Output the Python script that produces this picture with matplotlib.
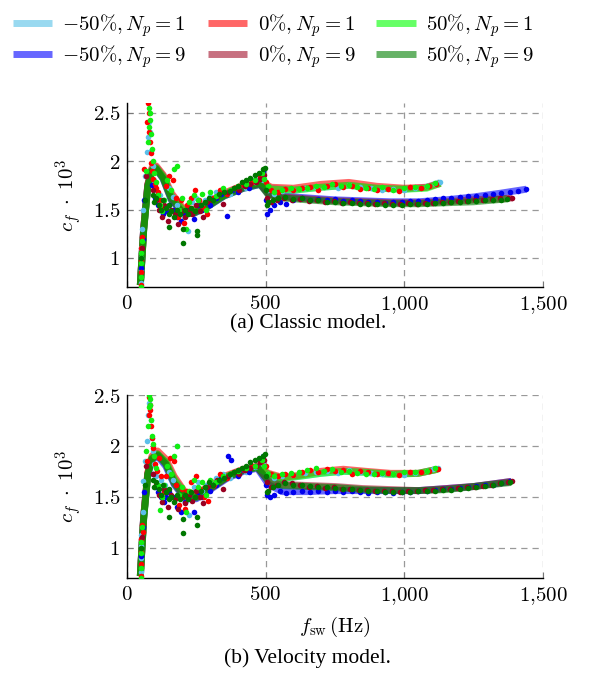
import matplotlib
matplotlib.use("Agg")
import matplotlib.pyplot as plt
from matplotlib.ticker import FixedLocator

plt.rcParams['mathtext.fontset'] = 'cm'
plt.rcParams['font.family'] = ['DejaVu Serif']

# ---------------- (a) classic model ----------------
# thick curves, N_p = 1
a_np1_x = [48, 60, 75, 90, 105, 130, 160, 200, 240, 290, 350, 420, 480, 520, 600, 700, 800, 900, 1000, 1080, 1130]
a_lb_line = [0.72, 1.3, 1.75, 1.92, 1.94, 1.85, 1.65, 1.5, 1.49, 1.56, 1.66, 1.74, 1.78, 1.72, 1.70, 1.73, 1.75, 1.72, 1.71, 1.73, 1.78]
a_r_line = [0.72, 1.3, 1.76, 1.93, 1.95, 1.86, 1.67, 1.52, 1.5, 1.57, 1.67, 1.75, 1.79, 1.73, 1.72, 1.76, 1.78, 1.74, 1.72, 1.73, 1.77]
a_g_line = [0.72, 1.28, 1.74, 1.91, 1.93, 1.84, 1.64, 1.5, 1.48, 1.55, 1.65, 1.74, 1.78, 1.71, 1.70, 1.73, 1.75, 1.72, 1.71, 1.72, 1.77]
# thick curves, N_p = 9
a_b_x = [48, 60, 75, 90, 105, 130, 160, 200, 240, 290, 350, 420, 480, 510, 560, 650, 750, 850, 950, 1050, 1150, 1250, 1350, 1440]
a_b_line = [0.72, 1.3, 1.75, 1.9, 1.92, 1.82, 1.6, 1.47, 1.46, 1.53, 1.64, 1.72, 1.76, 1.66, 1.64, 1.62, 1.6, 1.59, 1.58, 1.58, 1.6, 1.63, 1.67, 1.71]
a_dr_x = [48, 60, 75, 90, 105, 130, 160, 200, 240, 290, 350, 420, 480, 510, 560, 650, 750, 850, 950, 1050, 1150, 1250, 1350, 1390]
a_dr_line = [0.72, 1.3, 1.76, 1.91, 1.93, 1.84, 1.62, 1.48, 1.47, 1.54, 1.65, 1.73, 1.77, 1.66, 1.63, 1.61, 1.59, 1.58, 1.57, 1.57, 1.58, 1.6, 1.61, 1.62]
a_dg_x = [48, 60, 75, 90, 105, 130, 160, 200, 240, 290, 350, 420, 480, 510, 560, 650, 750, 850, 950, 1050, 1150, 1250, 1330, 1370]
a_dg_line = [0.72, 1.28, 1.74, 1.9, 1.92, 1.82, 1.6, 1.47, 1.46, 1.53, 1.64, 1.72, 1.76, 1.65, 1.62, 1.6, 1.58, 1.57, 1.56, 1.56, 1.57, 1.58, 1.6, 1.61]

# simulation points
a_lb_px = [50, 50, 51, 52, 55, 57, 66, 71, 76, 80, 84, 88, 92, 97, 103, 110, 120, 135, 150, 165,
           180, 195, 205, 220, 235, 250, 265, 280, 300, 320, 345, 370, 400, 430, 460, 490, 510, 530, 560, 600,
           640, 680, 720, 760, 800, 840, 880, 920, 960, 1000, 1040, 1080, 1110, 1130]
a_lb_py = [0.74, 0.88, 1.0, 1.1, 1.3, 1.5, 1.85, 2.09, 2.25, 2.4, 2.3, 2.1, 1.95, 1.8, 1.7, 1.58, 1.65, 1.6, 1.72, 1.63,
           1.55, 1.48, 1.42, 1.28, 1.58, 1.62, 1.55, 1.6, 1.64, 1.68, 1.7, 1.66, 1.73, 1.72, 1.78, 1.8, 1.7, 1.66, 1.69, 1.7,
           1.72, 1.73, 1.74, 1.72, 1.75, 1.73, 1.72, 1.70, 1.71, 1.70, 1.72, 1.74, 1.76, 1.78]
a_r_px = [50, 50, 51, 52, 53, 61, 72, 76, 78, 80, 82, 85, 88, 91, 95, 100, 106, 112, 120, 130,
          140, 152, 165, 175, 185, 195, 205, 215, 230, 245, 260, 275, 290, 310, 335, 360, 390, 420, 450, 480,
          500, 520, 545, 570, 600, 630, 660, 690, 720, 750, 780, 810, 840, 870, 900, 940, 980, 1020, 1060, 1090, 1115]
a_r_py = [0.72, 0.85, 0.98, 1.1, 1.22, 1.92, 2.4, 2.6, 2.5, 2.3, 2.2, 2.08, 1.98, 1.9, 1.82, 1.76, 1.72, 1.68, 1.6, 1.52,
          1.74, 1.85, 1.8, 1.62, 1.42, 1.6, 1.36, 1.55, 1.62, 1.7, 1.6, 1.52, 1.45, 1.62, 1.7, 1.66, 1.72, 1.75, 1.78, 1.85,
          1.78, 1.7, 1.68, 1.71, 1.70, 1.72, 1.73, 1.70, 1.74, 1.76, 1.73, 1.74, 1.71, 1.72, 1.70, 1.71, 1.69, 1.73, 1.72, 1.74, 1.76]
a_g_px = [50, 50, 51, 52, 54, 68, 74, 78, 80, 82, 84, 87, 90, 94, 98, 104, 110, 118, 126, 135,
          145, 158, 170, 179, 188, 200, 212, 225, 240, 255, 270, 285, 300, 320, 345, 370, 400, 430, 460, 485,
          495, 510, 530, 560, 590, 620, 650, 680, 710, 740, 770, 800, 830, 860, 890, 920, 960, 1000, 1040, 1080, 1110]
a_g_py = [0.7, 0.8, 0.95, 1.05, 1.18, 1.9, 2.2, 2.35, 2.55, 2.5, 2.42, 2.28, 2.12, 2.0, 1.88, 1.78, 1.65, 1.55, 1.48, 1.6,
          1.8, 1.7, 1.92, 1.95, 1.5, 1.62, 1.3, 1.58, 1.65, 1.6, 1.66, 1.5, 1.68, 1.64, 1.72, 1.7, 1.74, 1.76, 1.8, 1.88,
          1.82, 1.74, 1.68, 1.70, 1.72, 1.71, 1.72, 1.74, 1.73, 1.76, 1.74, 1.75, 1.73, 1.72, 1.71, 1.73, 1.70, 1.72, 1.73, 1.74, 1.77]
a_b_px = [52, 56, 62, 90, 100, 110, 120, 130, 140, 150, 165, 180, 195, 210, 225, 240, 255, 270, 285, 300,
          320, 340, 360, 380, 400, 420, 440, 460, 480, 492, 500, 505, 515, 530, 550, 575, 600, 630, 660, 690,
          720, 750, 780, 810, 840, 870, 900, 930, 960, 990, 1020, 1050, 1080, 1110, 1140, 1170, 1200, 1230, 1260, 1290,
          1320, 1350, 1380, 1410, 1440]
a_b_py = [0.9, 1.2, 1.6, 1.75, 1.62, 1.55, 1.5, 1.45, 1.48, 1.55, 1.5, 1.42, 1.38, 1.45, 1.52, 1.4, 1.55, 1.5, 1.58, 1.55,
          1.62, 1.66, 1.43, 1.7, 1.68, 1.75, 1.72, 1.8, 1.85, 1.9, 1.6, 1.45, 1.5, 1.55, 1.58, 1.56, 1.6, 1.62, 1.6, 1.61,
          1.6, 1.61, 1.59, 1.6, 1.59, 1.58, 1.58, 1.57, 1.58, 1.58, 1.59, 1.59, 1.6, 1.61, 1.62, 1.62, 1.63, 1.64, 1.64, 1.65,
          1.66, 1.67, 1.68, 1.69, 1.71]
a_dr_px = [55, 70, 95, 105, 115, 125, 135, 148, 160, 172, 185, 198, 210, 222, 235, 250, 262, 275, 290, 305,
           325, 345, 365, 385, 405, 425, 445, 465, 480, 495, 505, 520, 540, 565, 595, 625, 655, 685, 715, 745,
           775, 805, 835, 865, 895, 925, 955, 985, 1015, 1045, 1075, 1105, 1135, 1165, 1195, 1225, 1255, 1285, 1315, 1345,
           1375, 1390]
a_dr_py = [1.1, 1.85, 1.7, 1.6, 1.5, 1.42, 1.55, 1.38, 1.5, 1.45, 1.35, 1.48, 1.42, 1.5, 1.45, 1.55, 1.48, 1.42, 1.58, 1.6,
           1.64, 1.56, 1.68, 1.72, 1.7, 1.74, 1.76, 1.78, 1.82, 1.86, 1.62, 1.58, 1.6, 1.62, 1.6, 1.61, 1.59, 1.60, 1.58, 1.59,
           1.57, 1.58, 1.57, 1.57, 1.56, 1.57, 1.56, 1.56, 1.57, 1.56, 1.57, 1.57, 1.58, 1.58, 1.59, 1.59, 1.6, 1.6, 1.61, 1.62,
           1.62, 1.62]
a_dg_px = [52, 64, 92, 98, 106, 114, 122, 130, 140, 150, 153, 153, 160, 170, 180, 190, 201, 201, 210, 220,
           232, 245, 254, 254, 265, 280, 295, 310, 330, 350, 371, 385, 400, 415, 430, 445, 460, 475, 490, 498,
           500, 503, 510, 525, 545, 570, 600, 630, 660, 690, 720, 750, 780, 810, 840, 870, 900, 930, 960, 990,
           1020, 1050, 1080, 1110, 1140, 1170, 1200, 1230, 1260, 1290, 1320, 1350, 1370]
a_dg_py = [1.0, 1.6, 1.65, 1.58, 1.62, 1.55, 1.5, 1.6, 1.52, 1.45, 1.55, 1.32, 1.48, 1.42, 1.5, 1.45, 1.3, 1.15, 1.5, 1.45,
           1.52, 1.48, 1.28, 1.24, 1.55, 1.58, 1.62, 1.6, 1.66, 1.68, 1.69, 1.72, 1.74, 1.78, 1.8, 1.83, 1.86, 1.88, 1.92, 1.93,
           1.7, 1.55, 1.58, 1.6, 1.62, 1.63, 1.61, 1.62, 1.6, 1.6, 1.58, 1.58, 1.57, 1.57, 1.56, 1.56, 1.56, 1.55, 1.55, 1.55,
           1.56, 1.56, 1.56, 1.57, 1.57, 1.58, 1.58, 1.59, 1.59, 1.6, 1.6, 1.6, 1.61]

# ---------------- (b) velocity model ----------------
b_np1_x = [48, 60, 75, 90, 110, 140, 170, 210, 250, 300, 360, 420, 470, 510, 560, 620, 700, 780, 860, 950, 1050, 1120]
b_lb_line = [0.72, 1.3, 1.72, 1.88, 1.92, 1.84, 1.68, 1.53, 1.52, 1.6, 1.7, 1.76, 1.79, 1.72, 1.68, 1.70, 1.73, 1.75, 1.74, 1.72, 1.73, 1.77]
b_r_line = [0.72, 1.3, 1.74, 1.9, 1.95, 1.87, 1.7, 1.54, 1.53, 1.61, 1.71, 1.77, 1.8, 1.73, 1.69, 1.71, 1.75, 1.77, 1.75, 1.73, 1.73, 1.77]
b_g_line = [0.72, 1.28, 1.72, 1.88, 1.92, 1.84, 1.67, 1.52, 1.51, 1.6, 1.7, 1.76, 1.79, 1.72, 1.68, 1.70, 1.73, 1.75, 1.74, 1.72, 1.73, 1.77]
b_np9_x = [48, 60, 75, 90, 110, 140, 170, 210, 250, 300, 360, 420, 470, 510, 560, 650, 750, 850, 950, 1050, 1150, 1250, 1385]
b_b_line = [0.72, 1.3, 1.72, 1.86, 1.9, 1.8, 1.62, 1.48, 1.48, 1.57, 1.68, 1.75, 1.78, 1.62, 1.55, 1.55, 1.56, 1.56, 1.56, 1.56, 1.58, 1.6, 1.65]
b_dr_line = [0.72, 1.3, 1.73, 1.88, 1.92, 1.83, 1.65, 1.5, 1.5, 1.58, 1.69, 1.76, 1.79, 1.66, 1.62, 1.61, 1.6, 1.58, 1.57, 1.56, 1.58, 1.6, 1.65]
b_dg_line = [0.72, 1.28, 1.72, 1.87, 1.91, 1.82, 1.63, 1.49, 1.49, 1.58, 1.69, 1.76, 1.79, 1.65, 1.61, 1.6, 1.59, 1.57, 1.56, 1.56, 1.57, 1.6, 1.64]

b_lb_px = [50, 50, 51, 52, 56, 58, 66, 72, 77, 81, 85, 89, 93, 98, 104, 112, 122, 136, 150, 165,
           180, 195, 210, 225, 240, 255, 270, 285, 300, 320, 345, 370, 400, 430, 460, 490, 510, 530, 560, 600,
           640, 680, 720, 760, 800, 840, 880, 920, 960, 1000, 1040, 1080, 1105, 1120]
b_lb_py = [0.76, 0.9, 1.02, 1.12, 1.35, 1.65, 1.85, 2.05, 2.3, 2.42, 2.25, 2.08, 1.95, 1.82, 1.7, 1.6, 1.66, 1.62, 1.74, 1.66,
           2.0, 1.5, 1.45, 1.32, 1.6, 1.64, 1.56, 1.62, 1.65, 1.68, 1.72, 1.68, 1.74, 1.74, 1.79, 1.82, 1.72, 1.68, 1.70, 1.71,
           1.73, 1.74, 1.75, 1.73, 1.76, 1.74, 1.73, 1.72, 1.72, 1.71, 1.73, 1.75, 1.77, 1.78]
b_r_px = [50, 50, 51, 52, 53, 56, 72, 78, 80, 82, 84, 87, 90, 93, 97, 102, 108, 115, 122, 132,
          142, 155, 168, 178, 188, 198, 208, 218, 232, 247, 262, 277, 292, 312, 337, 362, 392, 422, 452, 482,
          500, 520, 545, 570, 600, 630, 660, 690, 720, 750, 780, 810, 840, 870, 900, 940, 980, 1020, 1060, 1090, 1120]
b_r_py = [0.72, 0.84, 0.96, 1.08, 1.22, 1.15, 1.85, 2.3, 2.48, 2.4, 2.35, 2.2, 2.08, 1.98, 1.9, 1.82, 1.75, 1.88, 1.7, 1.55,
          1.7, 1.88, 1.85, 1.62, 1.42, 1.58, 1.38, 1.56, 1.64, 1.7, 1.58, 1.5, 1.46, 1.62, 1.72, 1.68, 1.74, 1.76, 1.8, 1.84,
          1.8, 1.72, 1.7, 1.72, 1.71, 1.74, 1.76, 1.74, 1.77, 1.75, 1.76, 1.72, 1.75, 1.74, 1.72, 1.73, 1.71, 1.74, 1.74, 1.75, 1.77]
b_g_px = [50, 50, 51, 52, 54, 68, 74, 78, 80, 82, 84, 87, 90, 94, 98, 104, 110, 118, 126, 135,
          145, 158, 170, 180, 188, 200, 212, 225, 240, 255, 270, 285, 300, 320, 345, 370, 400, 430, 460, 485,
          495, 510, 530, 560, 590, 620, 650, 680, 710, 740, 770, 800, 830, 860, 890, 920, 960, 1000, 1040, 1080, 1110]
b_g_py = [0.7, 0.8, 0.95, 1.05, 1.2, 1.95, 2.2, 2.38, 2.5, 2.46, 2.4, 2.25, 2.1, 2.02, 1.9, 1.78, 1.62, 1.37, 1.5, 1.62,
          1.8, 1.72, 1.9, 2.0, 1.52, 1.6, 1.35, 1.56, 1.66, 1.6, 1.64, 1.52, 1.66, 1.64, 1.7, 1.72, 1.75, 1.78, 1.8, 1.86,
          1.8, 1.72, 1.7, 1.72, 1.73, 1.74, 1.76, 1.78, 1.75, 1.77, 1.74, 1.75, 1.73, 1.72, 1.72, 1.73, 1.72, 1.74, 1.74, 1.75, 1.78]
b_b_px = [52, 56, 62, 92, 102, 112, 122, 132, 142, 152, 165, 180, 195, 210, 225, 240, 255, 270, 285, 300,
          320, 340, 365, 375, 400, 420, 440, 460, 480, 492, 500, 505, 515, 530, 550, 575, 600, 630, 660, 690,
          720, 750, 780, 810, 840, 870, 900, 930, 960, 990, 1020, 1050, 1080, 1110, 1140, 1170, 1200, 1230, 1260, 1290,
          1320, 1350, 1380]
b_b_py = [0.92, 1.2, 1.55, 1.72, 1.6, 1.55, 1.5, 1.45, 1.5, 1.55, 1.5, 1.4, 1.35, 1.45, 1.52, 1.35, 1.55, 1.5, 1.6, 1.56,
          1.62, 1.68, 1.9, 1.86, 1.7, 1.76, 1.74, 1.8, 1.84, 1.9, 1.62, 1.52, 1.5, 1.52, 1.56, 1.54, 1.55, 1.56, 1.55, 1.56,
          1.55, 1.56, 1.55, 1.56, 1.55, 1.54, 1.55, 1.55, 1.54, 1.55, 1.55, 1.56, 1.56, 1.57, 1.58, 1.58, 1.59, 1.6, 1.61, 1.62,
          1.62, 1.63, 1.65]
b_dr_px = [55, 70, 95, 105, 115, 125, 135, 148, 160, 172, 185, 198, 210, 222, 235, 250, 262, 275, 290, 305,
           325, 345, 365, 385, 405, 425, 445, 465, 480, 495, 505, 520, 540, 565, 595, 625, 655, 685, 715, 745,
           775, 805, 835, 865, 895, 925, 955, 985, 1015, 1045, 1075, 1105, 1135, 1165, 1195, 1225, 1255, 1285, 1315, 1345,
           1375, 1390]
b_dr_py = [1.1, 1.8, 1.72, 1.62, 1.52, 1.45, 1.58, 1.4, 1.52, 1.48, 1.38, 1.5, 1.44, 1.52, 1.46, 1.56, 1.5, 1.44, 1.6, 1.62,
           1.66, 1.58, 1.7, 1.74, 1.72, 1.76, 1.78, 1.8, 1.84, 1.86, 1.64, 1.6, 1.62, 1.64, 1.63, 1.62, 1.6, 1.61, 1.59, 1.6,
           1.58, 1.58, 1.57, 1.57, 1.56, 1.56, 1.56, 1.55, 1.56, 1.56, 1.57, 1.57, 1.58, 1.58, 1.59, 1.6, 1.6, 1.61, 1.62, 1.63,
           1.64, 1.65]
b_dg_px = [52, 64, 92, 98, 106, 114, 122, 130, 140, 150, 153, 153, 160, 170, 180, 190, 201, 201, 210, 220,
           232, 245, 254, 254, 265, 280, 295, 310, 330, 350, 371, 385, 400, 415, 430, 445, 460, 475, 490, 498,
           500, 503, 510, 525, 545, 570, 600, 630, 660, 690, 720, 750, 780, 810, 840, 870, 900, 930, 960, 990,
           1020, 1050, 1080, 1110, 1140, 1170, 1200, 1230, 1260, 1290, 1320, 1350, 1380]
b_dg_py = [1.0, 1.62, 1.66, 1.6, 1.64, 1.58, 1.52, 1.62, 1.55, 1.48, 1.58, 1.3, 1.5, 1.45, 1.52, 1.48, 1.28, 1.14, 1.52, 1.48,
           1.55, 1.5, 1.3, 1.22, 1.56, 1.6, 1.64, 1.62, 1.66, 1.68, 1.72, 1.74, 1.76, 1.78, 1.8, 1.84, 1.86, 1.88, 1.9, 1.92,
           1.7, 1.55, 1.56, 1.6, 1.62, 1.63, 1.62, 1.62, 1.61, 1.6, 1.6, 1.59, 1.58, 1.58, 1.57, 1.56, 1.56, 1.55, 1.55, 1.55,
           1.55, 1.56, 1.56, 1.56, 1.57, 1.57, 1.58, 1.59, 1.6, 1.61, 1.62, 1.63, 1.64]

labels = [r"$-50\%, N_p = 1$", r"$-50\%, N_p = 9$", r"$0\%, N_p = 1$",
          r"$0\%, N_p = 9$", r"$50\%, N_p = 1$", r"$50\%, N_p = 9$"]
line_colors = ["#55c0e6", "#0000ff", "#ff0000", "#a3112b", "#00ff00", "#008000"]
dot_colors = ["#5bbfea", "#0000ee", "#ff0000", "#990022", "#11ee11", "#007700"]
xticks = [0, 500, 1000, 1500]
xticklabels = [r"$0$", r"$500$", r"$1{,}000$", r"$1{,}500$"]
yticks = [1, 1.5, 2, 2.5]
yticklabels = [r"$1$", r"$1.5$", r"$2$", r"$2.5$"]

fig = plt.figure(figsize=(6, 6.79), dpi=100)
ax1 = fig.add_axes([0.2117, 0.5773, 0.6933, 0.271])
ax2 = fig.add_axes([0.2117, 0.1487, 0.6933, 0.2695])

panels = [
    (ax1, [(a_np1_x, a_lb_line), (a_b_x, a_b_line), (a_np1_x, a_r_line),
           (a_dr_x, a_dr_line), (a_np1_x, a_g_line), (a_dg_x, a_dg_line)],
     [(a_lb_px, a_lb_py), (a_b_px, a_b_py), (a_r_px, a_r_py),
      (a_dr_px, a_dr_py), (a_g_px, a_g_py), (a_dg_px, a_dg_py)], 2.6),
    (ax2, [(b_np1_x, b_lb_line), (b_np9_x, b_b_line), (b_np1_x, b_r_line),
           (b_np9_x, b_dr_line), (b_np1_x, b_g_line), (b_np9_x, b_dg_line)],
     [(b_lb_px, b_lb_py), (b_b_px, b_b_py), (b_r_px, b_r_py),
      (b_dr_px, b_dr_py), (b_g_px, b_g_py), (b_dg_px, b_dg_py)], 2.5),
]

handles = []
for ax, curves, pts, ytop in panels:
    for i, (cx, cy) in enumerate(curves):
        ln, = ax.plot(cx, cy, color=line_colors[i], alpha=0.6, lw=5,
                      solid_capstyle="butt", label=labels[i], zorder=2)
        if ax is ax1:
            handles.append(ln)
    for i, (sx, sy) in enumerate(pts):
        ax.scatter(sx, sy, s=16, color=dot_colors[i], linewidths=0, zorder=3)

    ax.set_xlim(0, 1500)
    ax.set_ylim(0.7, ytop)
    ax.xaxis.set_major_locator(FixedLocator(xticks))
    ax.set_xticklabels(xticklabels)
    ax.yaxis.set_major_locator(FixedLocator(yticks))
    ax.set_yticklabels(yticklabels)
    ax.tick_params(labelsize=15, direction="in", length=4, color="#777777", pad=5)
    ax.grid(True, color="#999999", linestyle=(0, (5, 4)), linewidth=0.9, zorder=0)
    ax.set_axisbelow(True)
    ax.spines["top"].set_visible(False)
    ax.spines["right"].set_visible(False)
    ax.spines["left"].set_linewidth(1.0)
    ax.spines["bottom"].set_linewidth(1.0)
    ax.set_ylabel(r"$c_f\ \cdot\ 10^3$", fontsize=15, labelpad=6)

ax2.set_xlabel(r"$f_{\mathrm{sw}}\,(\mathrm{Hz})$", fontsize=15, labelpad=6)

fig.legend(handles=handles, loc="upper left", bbox_to_anchor=(0.0, 1.0), ncol=3,
           frameon=False, fontsize=15, handlelength=1.9, handletextpad=0.5,
           columnspacing=1.0, labelspacing=0.2, borderaxespad=0.2)

fig.text(0.513, 1 - 324 / 679, "(a) Classic model.", ha="center", va="center",
         family="Liberation Serif", fontsize=15.5)
fig.text(0.513, 1 - 658 / 679, "(b) Velocity model.", ha="center", va="center",
         family="Liberation Serif", fontsize=15.5)

fig.savefig("out.png", dpi=100)
